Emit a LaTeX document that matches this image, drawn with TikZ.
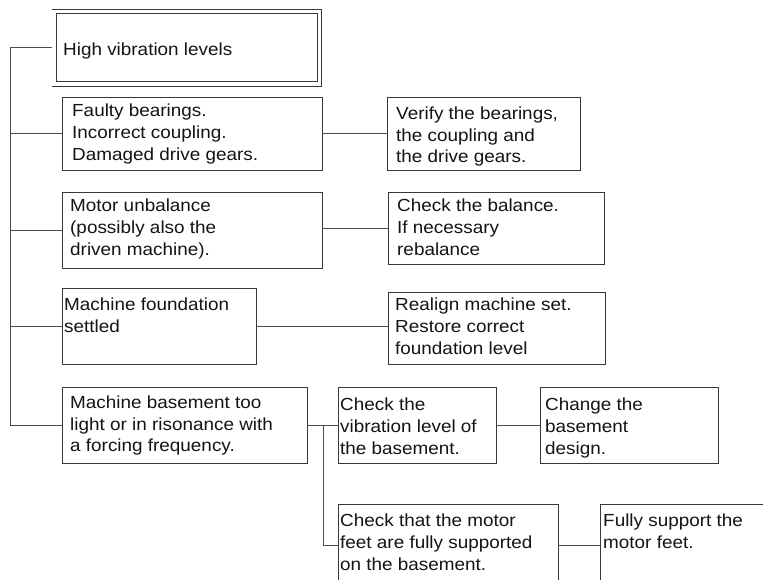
\documentclass[tikz,border=0pt]{standalone}
\usepackage{fontspec}
\setmainfont{Liberation Sans}[FakeStretch=1.08]
\begin{document}
\begin{tikzpicture}[x=1pt,y=-1pt,
  box/.style={draw=black!78, line width=0.9pt, fill=white, inner sep=0pt, outer sep=0pt, anchor=north west},
  txt/.style={anchor=base west, inner sep=0pt, font=\fontsize{17.5}{21.8}\selectfont, text=black!92},
  conn/.style={draw=black!70, line width=0.9pt}]
\clip (0,0) rectangle (763,579);
\useasboundingbox (0,0) rectangle (763,579);
% boxes
\node[box, double=white, double distance=3.5pt, outer sep=2.2pt, minimum width=265.5, minimum height=72.25] (b1) at (52,9.5) {};
\node[box, minimum width=260, minimum height=73] (b2) at (62,97) {};
\node[box, minimum width=260, minimum height=76] (b3) at (62,192) {};
\node[box, minimum width=194, minimum height=76] (b4) at (62,288) {};
\node[box, minimum width=245, minimum height=76] (b5) at (62,387) {};
\node[box, minimum width=193, minimum height=73] (r2) at (387,97) {};
\node[box, minimum width=216, minimum height=72] (r3) at (388,192) {};
\node[box, minimum width=217, minimum height=72] (r4) at (388,292) {};
\node[box, minimum width=158, minimum height=76] (c1) at (338,387) {};
\node[box, minimum width=178, minimum height=76] (c2) at (540,387) {};
\node[box, minimum width=220, minimum height=82] (c3) at (338,504) {};
\node[box, minimum width=200, minimum height=82] (c4) at (600,504) {};
% texts
\node[txt] (t1) at (63,55) {High vibration levels};
\node[txt] (t2) at (72,116.7) {\vtop{\hbox{Faulty bearings.}\hbox{Incorrect coupling.}\hbox{Damaged drive gears.}}};
\node[txt] (t3) at (70,211.7) {\vtop{\hbox{Motor unbalance}\hbox{(possibly also the}\hbox{driven machine).}}};
\node[txt] (t4) at (64,310.7) {\vtop{\hbox{Machine foundation}\hbox{settled}}};
\node[txt] (t5) at (70,408.3) {\vtop{\hbox{Machine basement too}\hbox{light or in risonance with}\hbox{a forcing frequency.}}};
\node[txt] (u2) at (396,119.3) {\vtop{\hbox{Verify the bearings,}\hbox{the coupling and}\hbox{the drive gears.}}};
\node[txt] (u3) at (397,211.7) {\vtop{\hbox{Check the balance.}\hbox{If necessary}\hbox{rebalance}}};
\node[txt] (u4) at (395,310.7) {\vtop{\hbox{Realign machine set.}\hbox{Restore correct}\hbox{foundation level}}};
\node[txt] (v1) at (340,410.7) {\vtop{\hbox{Check the}\hbox{vibration level of}\hbox{the basement.}}};
\node[txt] (v2) at (545,410.7) {\vtop{\hbox{Change the}\hbox{basement}\hbox{design.}}};
\node[txt] (v3) at (340,526.7) {\vtop{\hbox{Check that the motor}\hbox{feet are fully supported}\hbox{on the basement.}}};
\node[txt] (v4) at (603,526.7) {\vtop{\hbox{Fully support the}\hbox{motor feet.}}};
% connectors
\draw[conn] (b1.west) -- ++(-42,0) coordinate (tk) |- (b5.west);
\draw[conn] (b2.west) -- (b2.west -| tk);
\draw[conn] (b3.west) -- (b3.west -| tk);
\draw[conn] (b4.west) -- (b4.west -| tk);
\draw[conn] (b2.east) -- (r2.west);
\draw[conn] (r3.west) -- (r3.west -| b3.east);
\draw[conn] (b4.east) -- (b4.east -| r4.west);
\draw[conn] (b5.east) -- (c1.west);
\draw[conn] (b5.east) ++(16,0) coordinate (br) |- (c3.west);
\draw[conn] (c1.east) -- (c2.west);
\draw[conn] (c3.east) -- (c4.west);
\end{tikzpicture}
\end{document}
